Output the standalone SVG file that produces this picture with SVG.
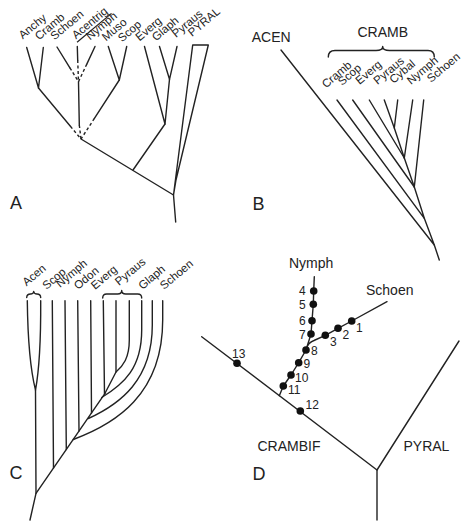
<svg xmlns="http://www.w3.org/2000/svg" width="463" height="521" viewBox="0 0 463 521">
<style>
.ln{fill:none;stroke:#222;stroke-width:1.4;stroke-linecap:round;stroke-linejoin:round}
.ds{fill:none;stroke:#222;stroke-width:1.4;stroke-dasharray:3 2.5}
.tx{font-family:"Liberation Sans",Arial,sans-serif;fill:#222}
.lb{font-size:11.5px}
.big{font-size:14px}
.pan{font-size:18px}
.num{font-size:12px}
.dot{fill:#111}
</style>
<rect width="463" height="521" fill="#fff"/>

<!-- Panel A -->
<g id="panelA">
  <g id="A-labels" class="tx lb">
    <text transform="translate(22.7,39.5) rotate(-40)">Anchy</text>
    <text transform="translate(39,40.5) rotate(-40)">Cramb</text>
    <text transform="translate(54.5,40.5) rotate(-40)">Schoen</text>
    <g transform="translate(76,39.5) rotate(-40)"><text>Acentrig</text><line x1="-1" y1="2.8" x2="44" y2="2.8" stroke="#222" stroke-width="1.2"/></g>
    <text transform="translate(90,40.5) rotate(-40)">Nymph</text>
    <text transform="translate(106,41.5) rotate(-40)">Muso</text>
    <text transform="translate(122,42.5) rotate(-40)">Scop</text>
    <text transform="translate(139.5,41.5) rotate(-40)">Everg</text>
    <text transform="translate(156,41.5) rotate(-40)">Glaph</text>
    <text transform="translate(176,38) rotate(-40)">Pyraus</text>
    <text transform="translate(192,37) rotate(-40)">PYRAL</text>
  </g>
  <text id="A-letter" class="tx pan" x="10" y="209">A</text>
  <g id="A-connectors">
    <path class="ln" d="M26.7,47.5 L38.5,88 L43.3,47.5"/>
    <path class="ln" d="M57,47 L69.9,67.8"/><path class="ds" d="M69.9,67.8 L78.5,81.7"/>
    <path class="ln" d="M77.3,46.5 L77.7,60"/><path class="ds" d="M77.7,60 L78.5,81.7"/>
    <path class="ln" d="M95,46.5 L86.8,64.1"/><path class="ds" d="M86.8,64.1 L78.5,81.7"/>
    <path class="ln" d="M108.3,46.5 L119.3,80 L126.7,46.5"/>
    <path class="ln" d="M78.5,81.7 L79.3,125"/><path class="ds" d="M79.3,125 L81,139"/>
    <path class="ln" d="M38.5,88 L70.4,126.3"/><path class="ds" d="M70.4,126.3 L81,139"/>
    <path class="ln" d="M119.3,80 L94.4,118.4"/><path class="ds" d="M94.4,118.4 L81,139"/>
    <path class="ln" d="M159.5,46.5 L169.5,79.3 L177,46.5"/>
    <path class="ln" d="M169.5,79.3 L165,124 L144.5,46.5"/>
    <path class="ln" d="M165,124 L133,170"/>
    <path class="ln" d="M81,139 L173.5,195 L175.7,222"/>
    <path class="ln" d="M173.5,195 L192.7,45 L208.3,45 L176,180 L173.5,195"/>
  </g>
</g>

<!-- Panel B -->
<g id="panelB">
  <text class="tx big" x="251.7" y="42.3">ACEN</text>
  <text class="tx big" x="357.5" y="37.3">CRAMB</text>
  <path class="ln" d="M328.3,57 Q328.3,50.5 335,50.5 L376,50.5 Q382.7,50.5 382.7,46.5 Q382.7,50.5 389.5,50.5 L428,50.5 Q434.3,50.5 434.3,57"/>
  <g id="B-labels" class="tx lb">
    <text transform="translate(326,88.5) rotate(-40)">Cramb</text>
    <text transform="translate(342,86) rotate(-40)">Scop</text>
    <text transform="translate(359.5,85) rotate(-40)">Everg</text>
    <text transform="translate(377.5,85) rotate(-40)">Pyraus</text>
    <text transform="translate(393.5,84) rotate(-40)">Cybal</text>
    <text transform="translate(411,85) rotate(-40)">Nymph</text>
    <text transform="translate(431,83) rotate(-40)">Schoen</text>
  </g>
  <text id="B-letter" class="tx pan" x="252.5" y="210">B</text>
  <g id="B-connectors">
    <path class="ln" d="M384.3,100 L394.3,128 L397.7,100"/>
    <path class="ln" d="M394.3,128 L404.3,158"/>
    <path class="ln" d="M369.3,100 L404.3,158 L412.7,100"/>
    <path class="ln" d="M404.3,158 L414.3,187"/>
    <path class="ln" d="M352.7,100 L414.3,187 L423.7,100"/>
    <path class="ln" d="M414.3,187 L424.3,218.3 L337,100"/>
    <path class="ln" d="M424.3,218.3 L434.3,245 L281,50"/>
    <path class="ln" d="M434.3,245 L439.3,260"/>
  </g>
</g>

<!-- Panel C -->
<g id="panelC">
  <g id="C-labels" class="tx lb">
    <text transform="translate(26.5,286.5) rotate(-40)">Acen</text>
    <text transform="translate(46.5,290) rotate(-40)">Scop</text>
    <text transform="translate(60,288) rotate(-40)">Nymph</text>
    <text transform="translate(78,290) rotate(-40)">Odon</text>
    <text transform="translate(95,290) rotate(-40)">Everg</text>
    <text transform="translate(119,286) rotate(-40)">Pyraus</text>
    <text transform="translate(142.5,290) rotate(-40)">Glaph</text>
    <text transform="translate(164,290) rotate(-40)">Schoen</text>
  </g>
  <path class="ln" d="M26.7,297.5 Q26.9,294 30.5,294 Q33.5,294 33.7,291.5 Q34,294 37,294 Q40.5,294 40.7,297.5"/>
  <path class="ln" d="M102.7,298 Q102.7,294 106.7,294 L117.7,294 Q121.7,294 121.7,290.5 Q121.7,294 125.7,294 L137.7,294 Q141.7,294 141.7,298"/>
  <text id="C-letter" class="tx pan" x="9.5" y="478.5">C</text>
  <g id="C-connectors">
    <path class="ln" d="M27.3,300.7 Q28,360 35.5,390 Q41,360 40.7,300.7"/>
    <path class="ln" d="M35.5,390 L36,493.3 L30,520"/>
    <path class="ln" d="M36,493.3 L105,393.3"/>
    <path class="ln" d="M52.3,300.7 L53.5,468"/>
    <path class="ln" d="M65,300.7 L66.3,449.5"/>
    <path class="ln" d="M77.7,300.7 L79,431"/>
    <path class="ln" d="M90.7,300.7 L91.5,413"/>
    <path class="ln" d="M103.3,300.7 L104.5,394"/>
    <path class="ln" d="M116,300.7 L116,372 L105,393.3"/>
    <path class="ln" d="M129.3,300.7 L129.3,340 C129.3,358 123,366 116,372"/>
    <path class="ln" d="M141.7,300.7 L141.7,330 C141.7,368 124,384 101.7,397.5"/>
    <path class="ln" d="M152.3,300.7 L152.3,325 C152.3,380 120,404 88.3,418.5"/>
    <path class="ln" d="M162.7,300.7 L162.7,320 C162.7,395 115,424 73.3,439.5"/>
  </g>
</g>

<!-- Panel D -->
<g id="panelD">
  <text class="tx big" x="289" y="267.5">Nymph</text>
  <text class="tx big" x="366" y="295">Schoen</text>
  <text class="tx big" x="257.5" y="450.7">CRAMBIF</text>
  <text class="tx big" x="403.5" y="450.7">PYRAL</text>
  <text id="D-letter" class="tx pan" x="252.5" y="479.5">D</text>
  <g id="D-connectors">
    <path class="ln" d="M201.7,336.7 L377,470 L459,341"/>
    <path class="ln" d="M377,470 L377,520"/>
    <path class="ln" d="M279.3,395.7 L283.3,386 L291,375 L298.7,362.7 L306,350 L311,334 L312,320.7 L313.3,304.3 L313.7,291 L314.3,276.7"/>
    <path class="ln" d="M307.5,346 Q309,342.5 314,340.5 L325.3,335.3 L338,328.3 L351.7,321 L387,301.7"/>
  </g>
  <g id="D-dots" class="dot">
    <circle cx="351.7" cy="321" r="3.8"/>
    <circle cx="338" cy="328.3" r="3.8"/>
    <circle cx="325.3" cy="335.3" r="3.8"/>
    <circle cx="313.7" cy="291" r="3.8"/>
    <circle cx="313.3" cy="304.3" r="3.8"/>
    <circle cx="312" cy="320.7" r="3.8"/>
    <circle cx="311" cy="334" r="3.8"/>
    <circle cx="306" cy="350" r="3.8"/>
    <circle cx="298.7" cy="362.7" r="3.8"/>
    <circle cx="291" cy="375" r="3.8"/>
    <circle cx="283.3" cy="386" r="3.8"/>
    <circle cx="300.3" cy="411" r="3.8"/>
    <circle cx="237" cy="363.3" r="3.8"/>
  </g>
  <g id="D-numbers" class="tx num">
    <text x="356" y="331.7">1</text>
    <text x="342.5" y="338.5">2</text>
    <text x="330" y="346">3</text>
    <text x="299" y="295">4</text>
    <text x="299" y="308.5">5</text>
    <text x="299" y="324.5">6</text>
    <text x="299" y="338.5">7</text>
    <text x="311" y="355">8</text>
    <text x="303.5" y="367.5">9</text>
    <text x="295" y="381.7">10</text>
    <text x="288" y="394">11</text>
    <text x="305.5" y="409.3">12</text>
    <text x="232" y="357.5">13</text>
  </g>
</g>
</svg>
